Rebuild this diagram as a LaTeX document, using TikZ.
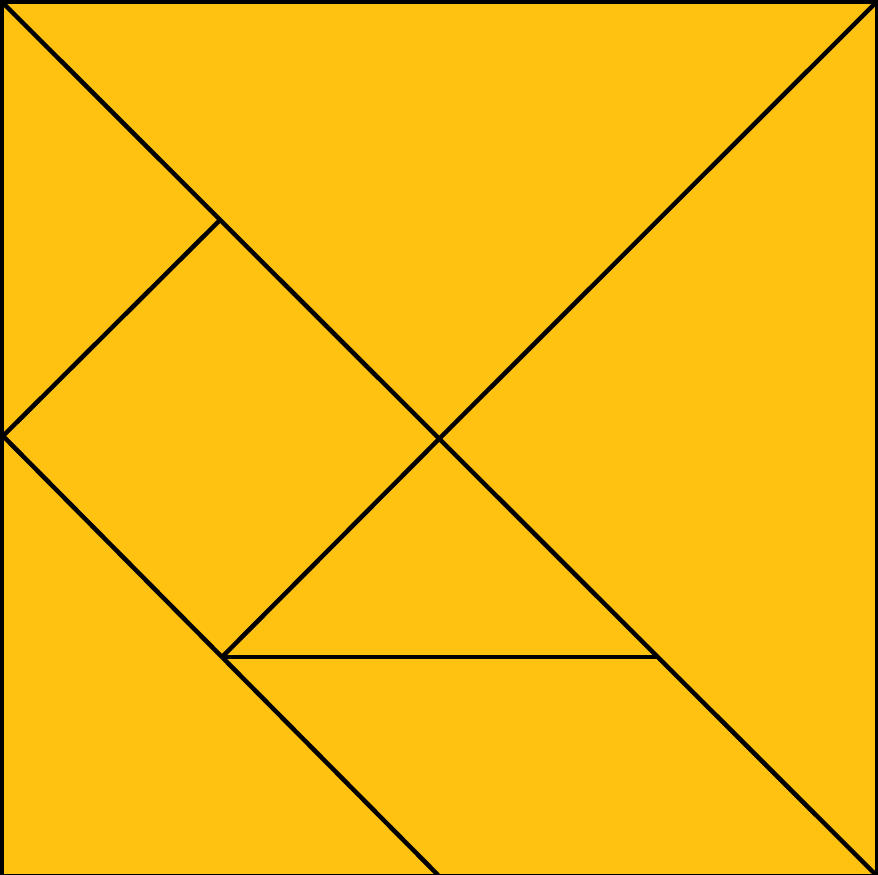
\documentclass[tikz,border=0pt]{standalone}
\definecolor{tanyellow}{RGB}{255,194,16}
\tikzset{piece/.style={draw=black,line width=4.5pt,line join=miter},
  frame/.style={draw=black,line width=3.2pt}}
\begin{document}
\begin{tikzpicture}[x=1pt,y=-1pt]
\useasboundingbox (0,0) rectangle (878,875);
\fill[tanyellow] (0,0) rectangle (878,875);
\coordinate (tl) at (2,2);
\coordinate (tr) at (876.5,2);
\coordinate (br) at (876.5,875.5);
\coordinate (bl) at (2,875.5);
\coordinate (c) at (440,438);
\coordinate (m) at (220,220);
\coordinate (l) at (3,436);
\coordinate (b) at (438,875);
\coordinate (p) at (222,657);
\coordinate (q) at (657,657);
\draw[frame] (tl) -- (tr) -- (br) -- (bl) -- cycle;
\draw[piece] (tl) -- (br);
\draw[piece] (tr) -- (c);
\draw[piece] (m) -- (l);
\draw[piece] (l) -- (b);
\draw[piece] (c) -- (p);
\draw[piece] (p) -- (q);
\end{tikzpicture}
\end{document}
